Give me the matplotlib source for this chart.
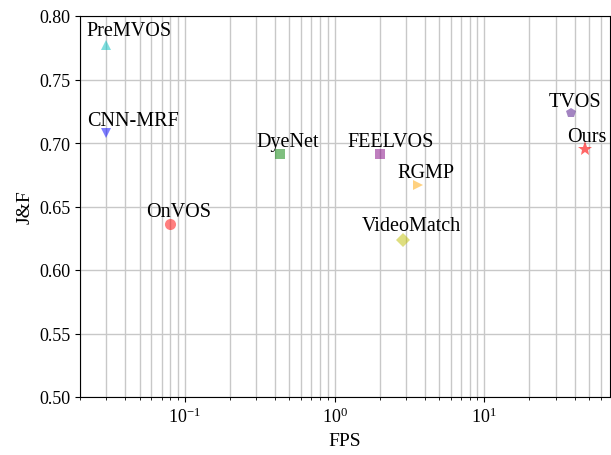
import matplotlib
matplotlib.use("Agg")
import matplotlib.pyplot as plt

plt.rcParams['font.family'] = ['Liberation Serif', 'DejaVu Serif']
plt.rcParams['mathtext.fontset'] = 'stix'

# methods, speed (FPS) and accuracy (J&F)
names = ['PreMVOS', 'CNN-MRF', 'OnVOS', 'DyeNet', 'FEELVOS',
         'RGMP', 'VideoMatch', 'TVOS', 'Ours']
fps = [0.03, 0.03, 0.08, 0.43, 2.0, 3.6, 2.85, 37.8, 46.7]
jf = [0.777, 0.708, 0.636, 0.691, 0.691, 0.667, 0.624, 0.724, 0.695]

markers = ['^', 'v', 'o', 's', 's', '>', 'D', 'p', '*']
colors = ['c', 'b', 'r', 'g', 'purple', 'orange', 'y', 'rebeccapurple', 'r']
sizes = [7, 7, 8, 7.5, 7.5, 7, 7, 7, 11]
alphas = [0.5, 0.5, 0.5, 0.5, 0.5, 0.5, 0.5, 0.6, 0.6]
# label offsets in pixels from the point
dx = [-20, -19, -24, -23, -32, -20, -41, -22, -17]
dy = [10, 8, 8, 8.5, 8.5, 8, 9.5, 7, 8.5]

fig = plt.figure(figsize=(6.11, 4.56), dpi=100)
ax = fig.add_axes([80 / 611, 58 / 456, 530 / 611, 381 / 456])

for i in range(len(names)):
    ax.plot(fps[i], jf[i], marker=markers[i], color=colors[i],
            markersize=sizes[i], alpha=alphas[i], linestyle='none',
            markeredgewidth=0)
    ax.annotate(names[i], (fps[i], jf[i]), xytext=(dx[i], dy[i]),
                textcoords='offset pixels', fontsize=14.5,
                ha='left', va='baseline')

ax.set_xscale('log')
ax.set_xlim(0.02, 69)
ax.set_ylim(0.5, 0.8)
ax.set_yticks([0.5, 0.55, 0.6, 0.65, 0.7, 0.75, 0.8])
ax.set_yticklabels(['0.50', '0.55', '0.60', '0.65', '0.70', '0.75', '0.80'])
ax.grid(True, which='both', color='#c8c8c8', linewidth=1)
ax.set_axisbelow(True)
ax.tick_params(labelsize=13)
ax.set_xlabel('FPS', fontsize=14)
ax.set_ylabel('J&F', fontsize=14)

fig.savefig('out.png', dpi=100)
